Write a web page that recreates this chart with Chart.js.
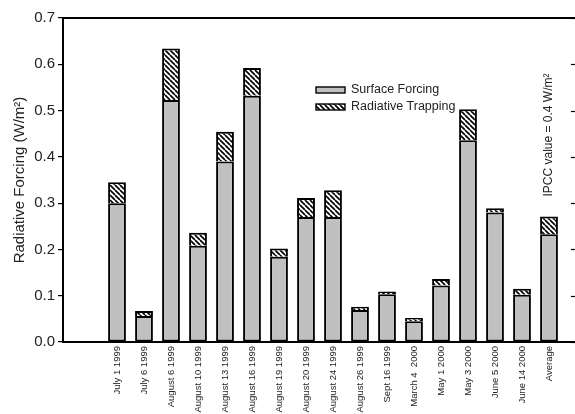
<!DOCTYPE html>
<html>
<head>
<meta charset="utf-8">
<script src="https://cdn.jsdelivr.net/npm/chart.js@4/dist/chart.umd.min.js"></script>
<style>
  html, body { margin: 0; padding: 0; background: #fff; overflow: hidden; }
  #wrap { width: 575px; height: 414px; overflow: hidden; }
</style>
</head>
<body>
<div id="wrap"><canvas id="forcingChart" width="578" height="414"></canvas></div>
<script>
// categories (dates of the measurements)
const categories = [
  "July 1 1999", "July 6 1999", "August 6 1999", "August 10 1999",
  "August 13 1999", "August 16 1999", "August 19 1999", "August 20 1999",
  "August 24 1999", "August 26 1999", "Sept 16 1999", "March 4  2000",
  "May 1 2000", "May 3 2000", "June 5 2000", "June 14 2000", "Average"
];

// Surface forcing (W/m2)
const surfaceForcing = [
  0.300, 0.056, 0.523, 0.208, 0.390, 0.532, 0.184, 0.270,
  0.270, 0.069, 0.103, 0.045, 0.122, 0.436, 0.280, 0.102, 0.233
];

// Radiative trapping (W/m2), stacked on top
const radiativeTrapping = [
  0.045, 0.011, 0.111, 0.028, 0.064, 0.060, 0.018, 0.041,
  0.058, 0.007, 0.006, 0.007, 0.014, 0.067, 0.009, 0.013, 0.038
];

// y ticks
const yTicks = [0, 0.1, 0.2, 0.3, 0.4, 0.5, 0.6, 0.7];

const FONT = "'Liberation Sans', Arial, sans-serif";

// hatch pattern "\\\\"
function makeHatch() {
  const s = 5;
  const c = document.createElement("canvas");
  c.width = s;
  c.height = s;
  const g = c.getContext("2d");
  g.fillStyle = "#fff";
  g.fillRect(0, 0, s, s);
  g.strokeStyle = "#000";
  g.lineWidth = 1.7;
  [-s, 0, s].forEach((k) => {
    g.beginPath();
    g.moveTo(k, 0);
    g.lineTo(k + s, s);
    g.stroke();
  });
  return g.createPattern(c, "repeat");
}
const hatch = makeHatch();

// legend + frame + annotation
const extras = {
  id: "extras",
  afterDraw(chart) {
    const ctx = chart.ctx;
    const area = chart.chartArea;
    const y = chart.scales.y;
    ctx.save();
    // top frame
    ctx.strokeStyle = "#000";
    ctx.lineWidth = 2;
    ctx.beginPath();
    ctx.moveTo(area.left, area.top);
    ctx.lineTo(area.right, area.top);
    ctx.stroke();
    // inward ticks on right side
    ctx.lineWidth = 1.2;
    yTicks.forEach((v) => {
      const py = Math.round(y.getPixelForValue(v)) + 0.5;
      ctx.beginPath();
      ctx.moveTo(area.right - 5, py);
      ctx.lineTo(area.right, py);
      ctx.stroke();
    });

    // legend
    const items = chart.data.datasets;
    ctx.font = "12.5px " + FONT;
    ctx.textBaseline = "middle";
    items.forEach((ds, i) => {
      const ly = 90 + i * 17;
      ctx.fillStyle = ds.backgroundColor;
      ctx.fillRect(316, ly - 3, 29, 6);
      ctx.strokeStyle = "#000";
      ctx.lineWidth = 1.4;
      ctx.strokeRect(316, ly - 3, 29, 6);
      ctx.fillStyle = "#222";
      ctx.fillText(ds.label, 351, ly);
    });

    // IPCC note
    ctx.translate(549, 135);
    ctx.rotate(-Math.PI / 2);
    ctx.textAlign = "center";
    ctx.font = "12px " + FONT;
    ctx.fillText("IPCC value = 0.4 W/m²", 0, 0);
    ctx.restore();
  }
};

const ctx = document.getElementById("forcingChart").getContext("2d");

new Chart(ctx, {
  type: "bar",
  data: {
    datasets: [
      {
        label: "Surface Forcing",
        data: surfaceForcing.map((v, i) => ({ x: i, y: v })),
        backgroundColor: "#c0c0c0",
        borderColor: "#000",
        borderWidth: 2,
        borderSkipped: false,
        barPercentage: 0.66,
        categoryPercentage: 1
      },
      {
        label: "Radiative Trapping",
        data: radiativeTrapping.map((v, i) => ({ x: i, y: v })),
        backgroundColor: hatch,
        borderColor: "#000",
        borderWidth: 2,
        borderSkipped: "start",
        barPercentage: 0.66,
        categoryPercentage: 1
      }
    ]
  },
  options: {
    responsive: false,
    animation: false,
    layout: { padding: { top: 18, right: 2, left: 0, bottom: 0 } },
    plugins: {
      legend: { display: false },
      tooltip: { enabled: false }
    },
    scales: {
      x: {
        type: "linear",
        stacked: true,
        offset: false,
        min: -2,
        max: 17,
        grid: { display: true, offset: false, drawOnChartArea: false, drawTicks: false },
        border: { display: true, color: "#000", width: 2 },
        afterFit: (scale) => { scale.height = 72; },
        afterBuildTicks: (scale) => {
          scale.ticks = categories.map((_, i) => ({ value: i }));
        },
        ticks: {
          autoSkip: false,
          minRotation: 90,
          maxRotation: 90,
          padding: 4,
          color: "#222",
          font: { family: FONT, size: 9.5 },
          callback: (v) => categories[v] || ""
        }
      },
      y: {
        stacked: true,
        min: 0,
        max: 0.7,
        afterFit: (scale) => { scale.width = 63; },
        grid: { display: true, drawOnChartArea: false, tickLength: 5, color: "#000", lineWidth: 1.2 },
        border: { display: true, color: "#000", width: 2 },
        ticks: {
          stepSize: 0.1,
          padding: 3,
          color: "#222",
          font: { family: FONT, size: 15 },
          callback: (v) => v.toFixed(1)
        },
        title: {
          display: true,
          text: "Radiative Forcing (W/m²)",
          color: "#222",
          font: { family: FONT, size: 15 },
          padding: { top: 11, bottom: 0 }
        }
      }
    }
  },
  plugins: [extras]
});
</script>
</body>
</html>
